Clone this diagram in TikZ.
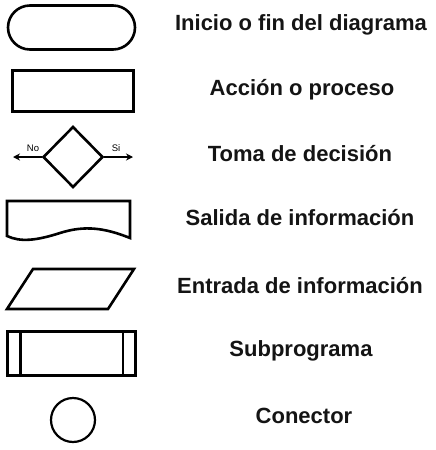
\documentclass[tikz,border=0pt]{standalone}
\usepackage{fontspec}
\setmainfont{Liberation Sans}
\usetikzlibrary{shapes.geometric,arrows.meta}
\begin{document}
\begin{tikzpicture}[x=1pt,y=-1pt,
  shp/.style={draw=black,line width=2.6pt,line join=miter},
  lbl/.style={font=\bfseries\fontsize{22}{25}\selectfont,text=black!92,inner sep=0pt},
  tiny/.style={font=\fontsize{9.5}{11}\selectfont,inner sep=0pt},
  arr/.style={line width=1.5pt,-{Stealth[length=7pt,width=7pt]}}]
\useasboundingbox (0,0) rectangle (436,450);
% terminal
\node[shp,rounded corners=22pt,minimum width=127pt,minimum height=44pt,inner sep=0pt] (term) at (71.5,27.5) {};
% process
\node[shp,minimum width=121pt,minimum height=41pt,inner sep=0pt] (proc) at (73,91) {};
% decision
\node[shp,diamond,minimum width=60pt,minimum height=61pt,inner sep=0pt] (dec) at (73,157) {};
\coordinate (no) at (13,157);
\coordinate (si) at (133,157);
\draw[arr] (dec.west) -- (no);
\draw[arr] (dec.east) -- (si);
\node[tiny] (nol) at (33,148.5) {No};
\node[tiny] (sil) at (116,148) {Si};
% document
\draw[shp] (7,236) -- (7,201) -- (130,201) -- (130,238)
  .. controls (105,228) and (85,225) .. (60,233)
  .. controls (35,241) and (20,242) .. (7,236) -- cycle;
% parallelogram
\draw[shp] (33,269) -- (134,269) -- (108,309) -- (7,309) -- cycle;
% subprogram
\node[shp,minimum width=128pt,minimum height=44pt,inner sep=0pt] (sub) at (71.5,353.5) {};
\draw[shp] ([xshift=14pt]sub.north west) -- ([xshift=14pt]sub.south west);
\draw[shp] ([xshift=-14pt]sub.north east) -- ([xshift=-14pt]sub.south east);
% connector
\node[shp,circle,minimum size=44pt,inner sep=0pt,line width=2.2pt] (con) at (73,420) {};
% labels
\node[lbl] (t1) at (301,25) {Inicio o fin del diagrama};
\node[lbl] (t2) at (302,90) {Acción o proceso};
\node[lbl] (t3) at (300,154) {Toma de decisión};
\node[lbl] (t4) at (300,218) {Salida de información};
\node[lbl] (t5) at (300,286) {Entrada de información};
\node[lbl] (t6) at (301,351) {Subprograma};
\node[lbl] (t7) at (304,416) {Conector};
\end{tikzpicture}
\end{document}
